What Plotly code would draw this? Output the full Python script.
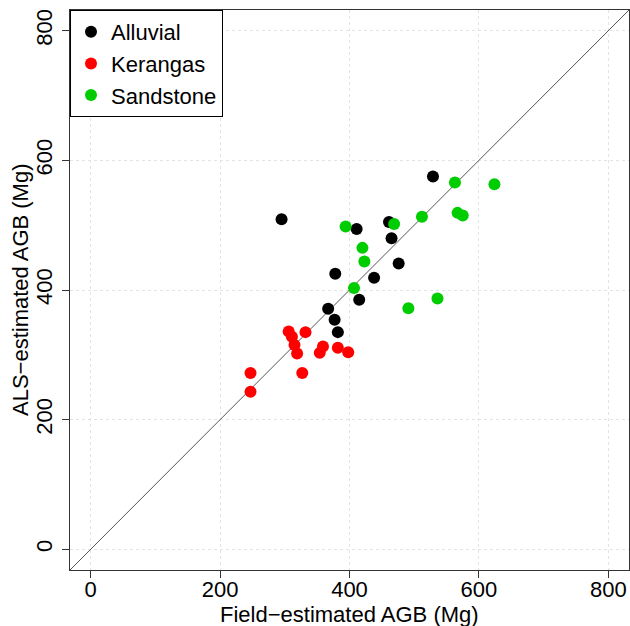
import plotly.graph_objects as go

# Data (Mg)
alluvial_field = [295, 529, 461, 411, 465, 476, 378, 438, 415, 367, 377, 382]
alluvial_als = [509, 575, 505, 494, 480, 441, 425, 419, 385, 371, 354, 335]

kerangas_field = [306, 311, 332, 315, 319, 359, 354, 382, 398, 247, 327, 247]
kerangas_als = [336, 328, 335, 315, 302, 313, 303, 311, 304, 272, 272, 243]

sandstone_field = [563, 624, 567, 575, 512, 469, 394, 420, 423, 407, 536, 491]
sandstone_als = [566, 563, 519, 515, 513, 502, 498, 465, 444, 403, 387, 372]

tick_vals = [0, 200, 400, 600, 800]
axis_range = [-32, 832]  # R default 4% extension of 0..800
one_to_one = axis_range

series = [
    ("Alluvial", alluvial_field, alluvial_als, "#000000"),
    ("Kerangas", kerangas_field, kerangas_als, "#FF0000"),
    ("Sandstone", sandstone_field, sandstone_als, "#00CD00"),
]

FONT = "Liberation Sans, Arial, Helvetica, sans-serif"

fig = go.Figure()

# 1:1 line
fig.add_trace(go.Scatter(x=one_to_one, y=one_to_one, mode="lines",
                         line=dict(color="#555555", width=1),
                         showlegend=False, hoverinfo="skip"))

for name, xs, ys, col in series:
    fig.add_trace(go.Scatter(x=xs, y=ys, mode="markers", name=name,
                             marker=dict(color=col, size=12, line=dict(width=0))))

axis_common = dict(
    range=axis_range, tickvals=tick_vals, ticks="outside", ticklen=7,
    tickwidth=1, tickcolor="#333333", automargin=False,
    showline=True, linecolor="#333333", linewidth=1, mirror=True,
    showgrid=True, gridcolor="#e3e3e3", griddash="dot", gridwidth=1,
    zeroline=False, tickfont=dict(size=22, color="#000000", family=FONT),
)

fig.update_xaxes(**axis_common, ticklabelstandoff=-7)
fig.update_yaxes(**axis_common, tickangle=-90, ticklabelstandoff=1)

fig.add_annotation(text="Field−estimated AGB (Mg)", xref="paper", yref="paper",
                   x=0.5, y=0, xanchor="center", yanchor="middle", yshift=-44,
                   showarrow=False, font=dict(size=22, color="#000000", family=FONT))
fig.add_annotation(text="ALS−estimated AGB (Mg)", xref="paper", yref="paper",
                   x=0, y=0.5, xanchor="center", yanchor="middle", xshift=-50,
                   textangle=-90, showarrow=False,
                   font=dict(size=22, color="#000000", family=FONT))

fig.update_layout(
    width=630, height=626,
    margin=dict(l=70, r=1, t=10, b=56, autoexpand=False),
    paper_bgcolor="white", plot_bgcolor="white",
    font=dict(family=FONT, size=22, color="#000000"),
    legend=dict(x=0, y=1, xanchor="left", yanchor="top",
                bordercolor="#000000", borderwidth=1, bgcolor="white",
                font=dict(size=22, family=FONT)),
)

fig.write_html(
    "out.html",
    config={"displayModeBar": False},
    post_script="document.body.style.margin='0';document.body.style.overflow='hidden';",
)
